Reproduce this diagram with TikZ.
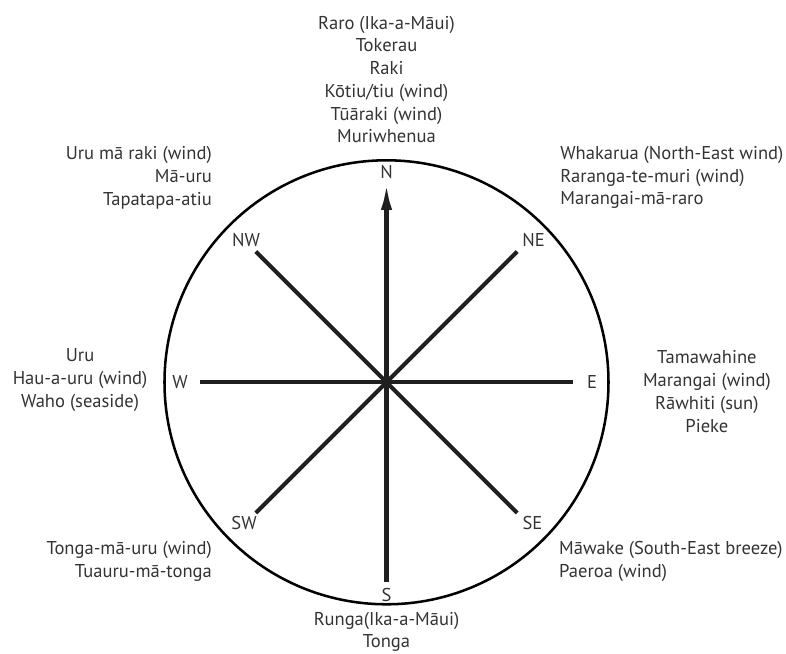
\documentclass[tikz,border=0pt]{standalone}
\usepackage{fontspec}
\setmainfont{PT Sans}
\usepackage{tikz}
\usepackage{xcolor}
\usetikzlibrary{arrows.meta}

\definecolor{inkgray}{HTML}{333333}
\tikzset{
  spoke/.style={line width=2.9pt, draw=black!88},
  dirlabel/.style={text=inkgray, font=\fontsize{13.2}{16.2}\selectfont, inner sep=0pt},
  namelist/.style={text=inkgray, font=\fontsize{13.2}{16.2}\selectfont, inner sep=0pt},
}

\begin{document}
\begin{tikzpicture}
  \useasboundingbox (-9.6625,9.5575) rectangle (9.9875,-6.7925);
  % compass ring
  \draw[line width=1.8pt] (0,0) circle (5.55);
  % spokes
  \coordinate (O) at (0,0);
  \coordinate (tipN) at (0,4.98);
  \coordinate (tipS) at (0,-4.99);
  \coordinate (tipE) at (4.66,0);
  \coordinate (tipW) at (-4.66,0);
  \coordinate (tipNE) at (45:4.62);
  \coordinate (tipNW) at (135:4.62);
  \coordinate (tipSW) at (225:4.62);
  \coordinate (tipSE) at (315:4.62);
  \draw[spoke, -{Latex[length=19pt,width=8pt]}] (O) -- (tipN);
  \draw[spoke] (O) -- (tipS);
  \draw[spoke] (tipW) -- (tipE);
  \draw[spoke] (tipSW) -- (tipNE);
  \draw[spoke] (tipNW) -- (tipSE);
  % direction letters
  \node[dirlabel] (labN) at (0,5.26) {N};
  \node[dirlabel] (labS) at (0,-5.31) {S};
  \node[dirlabel] (labW) at (-5.16,0) {W};
  \node[dirlabel] (labE) at (5.14,0) {E};
  \node[dirlabel] (labNW) at (-3.51,3.56) {NW};
  \node[dirlabel] (labNE) at (3.68,3.56) {NE};
  \node[dirlabel] (labSW) at (-3.56,-3.52) {SW};
  \node[dirlabel] (labSE) at (3.65,-3.52) {SE};
  % Maori names round the ring
  \node[namelist, align=center] (namesN) at (0,7.57)
    {Raro (Ika-a-Māui)\\Tokerau\\Raki\\Kōtiu/tiu (wind)\\Tūāraki (wind)\\Muriwhenua};
  \node[namelist, align=right, anchor=east] (namesNW) at (-4.36,5.12)
    {Uru mā raki (wind)\\Mā-uru\\Tapatapa-atiu};
  \node[namelist, align=left, anchor=west] (namesNE) at (4.34,5.12)
    {Whakarua (North-East wind)\\Raranga-te-muri (wind)\\Marangai-mā-raro};
  \node[namelist, align=center] (namesW) at (-7.66,0.06)
    {Uru\\Hau-a-uru (wind)\\Waho (seaside)};
  \node[namelist, align=center] (namesE) at (8.01,-0.23)
    {Tamawahine\\Marangai (wind)\\Rāwhiti (sun)\\Pieke};
  \node[namelist, align=right, anchor=east] (namesSW) at (-4.36,-4.47)
    {Tonga-mā-uru (wind)\\Tuauru-mā-tonga};
  \node[namelist, align=left, anchor=west] (namesSE) at (4.31,-4.47)
    {Māwake (South-East breeze)\\Paeroa (wind)};
  \node[namelist, align=center] (namesS) at (0,-6.24)
    {Runga(Ika-a-Māui)\\Tonga};
\end{tikzpicture}
\end{document}
